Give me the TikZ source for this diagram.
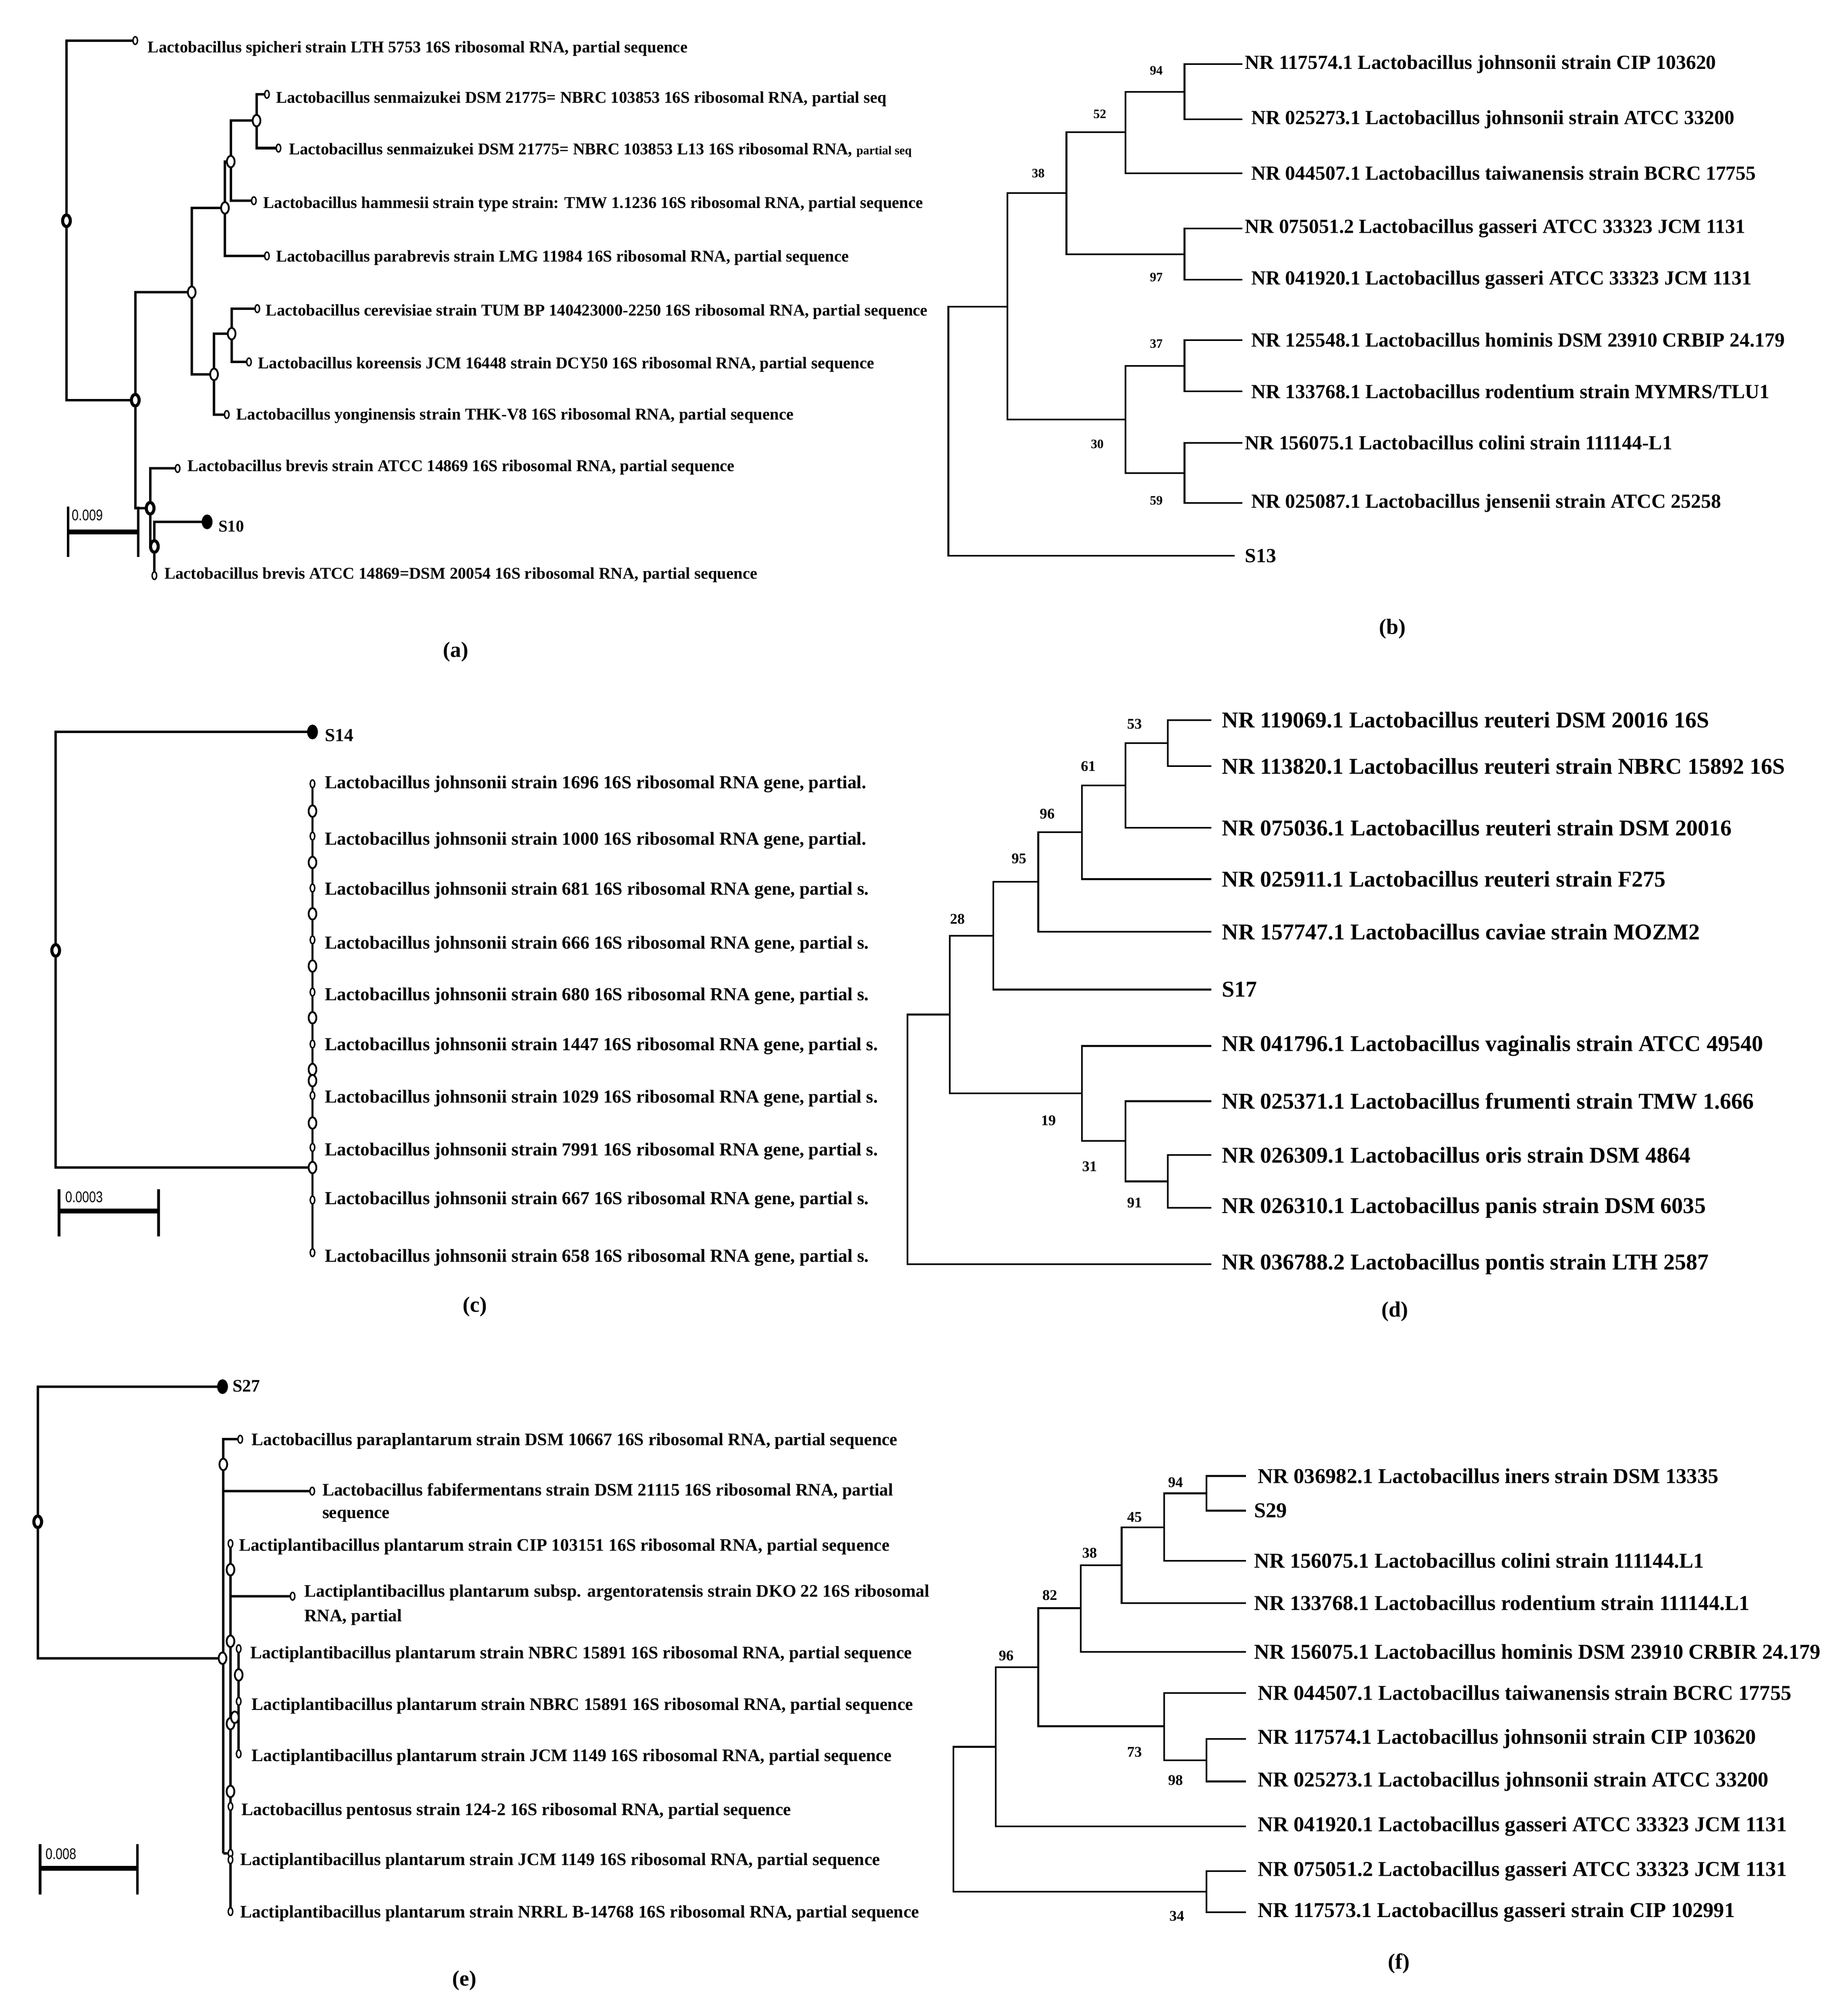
\documentclass[tikz,border=0pt]{standalone}
\usepackage{fontspec}
\setmainfont{Liberation Serif}
\newfontfamily\tf{Liberation Serif}
\newfontfamily\scfont[FakeStretch=0.8]{Liberation Sans}
\usetikzlibrary{shapes.geometric}
\begin{document}
\begin{tikzpicture}[x=1pt,y=-1pt,
 br/.style={line width=1.9pt},
 thin/.style={line width=1.3pt},
 lfa/.style={anchor=west,inner sep=0pt,font=\tf\bfseries\fontsize{12.8}{13}\selectfont},
 lfc/.style={anchor=west,inner sep=0pt,font=\tf\bfseries\fontsize{14.3}{15}\selectfont},
 lfe/.style={anchor=west,inner sep=0pt,font=\tf\bfseries\fontsize{13.7}{14}\selectfont},
 lfb/.style={anchor=west,inner sep=0pt,font=\tf\bfseries\fontsize{15.6}{16}\selectfont},
 lfd/.style={anchor=west,inner sep=0pt,font=\tf\bfseries\fontsize{17.6}{18}\selectfont},
 lff/.style={anchor=west,inner sep=0pt,font=\bfseries\fontsize{16.5}{17}\selectfont},
 bs/.style={inner sep=0pt,font=\bfseries\fontsize{10}{10}\selectfont},
 bsd/.style={inner sep=0pt,font=\bfseries\fontsize{11.5}{12}\selectfont},
 sm/.style={ellipse,draw,fill=white,line width=1.1pt,minimum width=3.5pt,minimum height=6pt,inner sep=0pt},
 bg/.style={ellipse,draw,fill=white,line width=1.4pt,minimum width=6pt,minimum height=9pt,inner sep=0pt},
 rt/.style={ellipse,draw,fill=white,line width=2.4pt,minimum width=6pt,minimum height=9pt,inner sep=0pt},
 sbar/.style={line width=4pt},
 panel/.style={font=\bfseries\fontsize{17}{17}\selectfont,inner sep=0pt}]
\fill[white] (0,0) rectangle (1440,1570);
\useasboundingbox (0,0) rectangle (1440,1570);

% ===================== (a) =====================
\coordinate (a0) at (51.8,172);
\coordinate (a1) at (105.4,311.8);
\coordinate (aA) at (149.4,227.7);
\coordinate (aB) at (175.3,162);
\coordinate (aC) at (179.8,125.9);
\coordinate (aD) at (199.9,94);
\coordinate (aE) at (166.8,291.7);
\coordinate (aF) at (180.5,260);
\coordinate (aG) at (117,396);
\coordinate (aH) at (120.3,425.8);
\coordinate (ta1) at (105.4,31.6);
\coordinate (ta2) at (208,73.5);
\coordinate (ta3) at (217,115.4);
\coordinate (ta4) at (197.8,156.4);
\coordinate (ta5) at (208,199.4);
\coordinate (ta6) at (200.5,240.5);
\coordinate (ta7) at (194,282);
\coordinate (ta8) at (176.7,323);
\coordinate (ta9) at (138.4,365);
\coordinate (ta10) at (161.4,406.6);
\coordinate (ta11) at (120.3,448.5);
\draw[br] (a0) |- (ta1); \draw[br] (a0) |- (a1);
\draw[br] (a1) |- (aA); \draw[br] (a1) |- (aG);
\draw[br] (aA) |- (aB); \draw[br] (aA) |- (aE);
\draw[br] (aB) |- (aC); \draw[br] (aB) |- (ta5);
\draw[br] (aC) |- (aD); \draw[br] (aC) |- (ta4);
\draw[br] (aD) |- (ta2); \draw[br] (aD) |- (ta3);
\draw[br] (aE) |- (aF); \draw[br] (aE) |- (ta8);
\draw[br] (aF) |- (ta6); \draw[br] (aF) |- (ta7);
\draw[br] (aG) |- (ta9); \draw[br] (aG) |- (aH);
\draw[br] (aH) |- (ta10); \draw[br] (aH) -- (ta11);
\foreach \p in {ta1,ta2,ta3,ta4,ta5,ta6,ta7,ta8,ta9,ta11} \node[sm] at (\p) {};
\node[rt,fill=black] at (ta10) {};
\foreach \p in {aA,aB,aC,aD,aE,aF} \node[bg] at (\p) {};
\foreach \p in {a0,a1,aG,aH} \node[rt] at (\p) {};
\node[lfa] (la1) at (115,38) {Lactobacillus spicheri strain LTH 5753 16S ribosomal RNA, partial sequence};
\node[lfa] (la2) at (215,77) {Lactobacillus senmaizukei DSM 21775= NBRC 103853 16S ribosomal RNA, partial seq};
\node[lfa] (la3) at (225,117) {Lactobacillus senmaizukei DSM 21775= NBRC 103853 L13 16S ribosomal RNA, {\fontsize{9.5}{10}\selectfont partial seq}};
\node[lfa] (la4) at (205,159) {Lactobacillus hammesii strain type strain: TMW 1.1236 16S ribosomal RNA, partial sequence};
\node[lfa] (la5) at (215,201) {Lactobacillus parabrevis strain LMG 11984 16S ribosomal RNA, partial sequence};
\node[lfa] (la6) at (207,243) {Lactobacillus cerevisiae strain TUM BP 140423000-2250 16S ribosomal RNA, partial sequence};
\node[lfa] (la7) at (201,284) {Lactobacillus koreensis JCM 16448 strain DCY50 16S ribosomal RNA, partial sequence};
\node[lfa] (la8) at (184,324) {Lactobacillus yonginensis strain THK-V8 16S ribosomal RNA, partial sequence};
\node[lfa] (la9) at (146,364) {Lactobacillus brevis strain ATCC 14869 16S ribosomal RNA, partial sequence};
\node[lfa] (la10) at (170,410) {S10};
\node[lfa] (la11) at (128,448) {Lactobacillus brevis ATCC 14869=DSM 20054 16S ribosomal RNA, partial sequence};
\coordinate (sa1) at (53,414.5); \coordinate (sa2) at (107.7,414.5);
\draw[sbar] (sa1) -- (sa2);
\draw[line width=2pt] (53,394.7) -- (53,434); \draw[line width=2pt] (107.7,394.7) -- (107.7,434);
\node[anchor=south west,inner sep=0pt,font=\scfont\fontsize{12}{12}\selectfont] (sca) at (56,406) {0.009};
\node[panel] (pa) at (355,508) {(a)};

% ===================== (b) =====================
\coordinate (b0) at (739,336);
\coordinate (b38) at (785,239);
\coordinate (b52) at (831,150.5);
\coordinate (b94c) at (877,103);
\coordinate (b94) at (923,71.5);
\coordinate (b97) at (923,198);
\coordinate (b30) at (877,327);
\coordinate (b37) at (923,285);
\coordinate (b59) at (923,368.5);
\foreach \i/\y in {1/50,2/93,3/135,4/178,5/218,6/265,7/305,8/345,9/392} \coordinate (tb\i) at (968,\y);
\coordinate (tb10) at (962,433);
\draw[thin] (b0) |- (b38); \draw[thin] (b0) |- (tb10);
\draw[thin] (b38) |- (b52); \draw[thin] (b38) |- (b30);
\draw[thin] (b52) |- (b94c); \draw[thin] (b52) |- (b97);
\draw[thin] (b94c) |- (b94); \draw[thin] (b94c) |- (tb3);
\draw[thin] (b94) |- (tb1); \draw[thin] (b94) |- (tb2);
\draw[thin] (b97) |- (tb4); \draw[thin] (b97) |- (tb5);
\draw[thin] (b30) |- (b37); \draw[thin] (b30) |- (b59);
\draw[thin] (b37) |- (tb6); \draw[thin] (b37) |- (tb7);
\draw[thin] (b59) |- (tb8); \draw[thin] (b59) |- (tb9);
\node[bs] (n38) at (809,135) {38};
\node[bs] (n52) at (857,89) {52};
\node[bs] (n94) at (901,55) {94};
\node[bs] (n97) at (901,216) {97};
\node[bs] (n37) at (901,268) {37};
\node[bs] (n30) at (855,346) {30};
\node[bs] (n59) at (901,390) {59};
\node[lfb] (lb1) at (970,50) {NR 117574.1 Lactobacillus johnsonii strain CIP 103620};
\node[lfb] (lb2) at (975,93) {NR 025273.1 Lactobacillus johnsonii strain ATCC 33200};
\node[lfb] (lb3) at (975,135) {NR 044507.1 Lactobacillus taiwanensis strain BCRC 17755};
\node[lfb] (lb4) at (970,178) {NR 075051.2 Lactobacillus gasseri ATCC 33323 JCM 1131};
\node[lfb] (lb5) at (975,218) {NR 041920.1 Lactobacillus gasseri ATCC 33323 JCM 1131};
\node[lfb] (lb6) at (975,265) {NR 125548.1 Lactobacillus hominis DSM 23910 CRBIP 24.179};
\node[lfb] (lb7) at (975,305) {NR 133768.1 Lactobacillus rodentium strain MYMRS/TLU1};
\node[lfb] (lb8) at (970,345) {NR 156075.1 Lactobacillus colini strain 111144-L1};
\node[lfb] (lb9) at (975,392) {NR 025087.1 Lactobacillus jensenii strain ATCC 25258};
\node[lfb] (lb10) at (970,433) {S13};
\node[panel] (pb) at (1085,490) {(b)};

% ===================== (c) =====================
\coordinate (c0) at (43.4,740.5);
\coordinate (cS) at (243.5,570.3);
\coordinate (cN) at (243.5,909.7);
\coordinate (ctop) at (243.5,610.7);
\coordinate (cbot) at (243.5,976);
\draw[br] (c0) |- (cS); \draw[br] (c0) |- (cN);
\draw[line width=1.5pt] (ctop) -- (cbot);
\node[rt,fill=black] at (cS) {};
\node[rt] at (c0) {};
\foreach \y in {610.7,651.5,691.9,732.3,773,813.5,853.6,894,935,976} \node[sm] at (243.5,\y) {};
\foreach \y in {632,672,712,752.7,793,833.3,842,875,909.7} \node[bg] at (243.5,\y) {};
\node[lfc] (lc0) at (253,573) {S14};
\node[lfc] (lc1) at (253,611) {Lactobacillus johnsonii strain 1696 16S ribosomal RNA gene, partial.};
\node[lfc] (lc2) at (253,655) {Lactobacillus johnsonii strain 1000 16S ribosomal RNA gene, partial.};
\node[lfc] (lc3) at (253,694) {Lactobacillus johnsonii strain 681 16S ribosomal RNA gene, partial s.};
\node[lfc] (lc4) at (253,736) {Lactobacillus johnsonii strain 666 16S ribosomal RNA gene, partial s.};
\node[lfc] (lc5) at (253,776) {Lactobacillus johnsonii strain 680 16S ribosomal RNA gene, partial s.};
\node[lfc] (lc6) at (253,815) {Lactobacillus johnsonii strain 1447 16S ribosomal RNA gene, partial s.};
\node[lfc] (lc7) at (253,856) {Lactobacillus johnsonii strain 1029 16S ribosomal RNA gene, partial s.};
\node[lfc] (lc8) at (253,897) {Lactobacillus johnsonii strain 7991 16S ribosomal RNA gene, partial s.};
\node[lfc] (lc9) at (253,935) {Lactobacillus johnsonii strain 667 16S ribosomal RNA gene, partial s.};
\node[lfc] (lc10) at (253,980) {Lactobacillus johnsonii strain 658 16S ribosomal RNA gene, partial s.};
\coordinate (sc1) at (46,943.6); \coordinate (sc2) at (123.6,943.6);
\draw[sbar] (sc1) -- (sc2);
\draw[line width=2pt] (46,926.6) -- (46,963.4); \draw[line width=2pt] (123.6,926.6) -- (123.6,963.4);
\node[anchor=south west,inner sep=0pt,font=\scfont\fontsize{12}{12}\selectfont] (scc) at (50.8,937) {0.0003};
\node[panel] (pc) at (370,1018) {(c)};

% ===================== (d) =====================
\coordinate (d0) at (707,888);
\coordinate (d28) at (740,790.5);
\coordinate (d95) at (774,729);
\coordinate (d96) at (809,687);
\coordinate (d61) at (843,648.5);
\coordinate (d53) at (877,612);
\coordinate (d53b) at (910,579);
\coordinate (d19) at (843,852);
\coordinate (d31) at (877,889);
\coordinate (d91) at (910,920.5);
\foreach \i/\y in {1/561,2/597,3/645,4/685,5/726,6/771,7/815,8/858,9/900,10/941,11/985} \coordinate (td\i) at (944,\y);
\draw[thin] (d0) |- (d28); \draw[thin] (d0) |- (td11);
\draw[thin] (d28) |- (d95); \draw[thin] (d28) |- (d19);
\draw[thin] (d95) |- (d96); \draw[thin] (d95) |- (td6);
\draw[thin] (d96) |- (d61); \draw[thin] (d96) |- (td5);
\draw[thin] (d61) |- (d53); \draw[thin] (d61) |- (td4);
\draw[thin] (d53) |- (d53b); \draw[thin] (d53) |- (td3);
\draw[thin] (d53b) |- (td1); \draw[thin] (d53b) |- (td2);
\draw[thin] (d19) |- (td7); \draw[thin] (d19) |- (d31);
\draw[thin] (d31) |- (td8); \draw[thin] (d31) |- (d91);
\draw[thin] (d91) |- (td9); \draw[thin] (d91) |- (td10);
\node[bsd] (m53) at (884,564) {53};
\node[bsd] (m61) at (848,597) {61};
\node[bsd] (m96) at (816,634) {96};
\node[bsd] (m95) at (794,669) {95};
\node[bsd] (m28) at (746,716) {28};
\node[bsd] (m19) at (817,873) {19};
\node[bsd] (m31) at (849,909) {31};
\node[bsd] (m91) at (884,937) {91};
\node[lfd] (ld1) at (952,561) {NR 119069.1 Lactobacillus reuteri DSM 20016 16S};
\node[lfd] (ld2) at (952,597) {NR 113820.1 Lactobacillus reuteri strain NBRC 15892 16S};
\node[lfd] (ld3) at (952,645) {NR 075036.1 Lactobacillus reuteri strain DSM 20016};
\node[lfd] (ld4) at (952,685) {NR 025911.1 Lactobacillus reuteri strain F275};
\node[lfd] (ld5) at (952,726) {NR 157747.1 Lactobacillus caviae strain MOZM2};
\node[lfd] (ld6) at (952,771) {S17};
\node[lfd] (ld7) at (952,815) {NR 041796.1 Lactobacillus vaginalis strain ATCC 49540};
\node[lfd] (ld8) at (952,858) {NR 025371.1 Lactobacillus frumenti strain TMW 1.666};
\node[lfd] (ld9) at (952,900) {NR 026309.1 Lactobacillus oris strain DSM 4864};
\node[lfd] (ld10) at (952,941) {NR 026310.1 Lactobacillus panis strain DSM 6035};
\node[lfd] (ld11) at (952,985) {NR 036788.2 Lactobacillus pontis strain LTH 2587};
\node[panel] (pd) at (1087,1022) {(d)};

% ===================== (e) =====================
\coordinate (e0) at (29.4,1185.7);
\coordinate (eS) at (173.4,1080.4);
\coordinate (eM) at (173.4,1292);
\coordinate (eTop) at (174,1121.4);
\coordinate (eBot) at (174,1444);
\coordinate (eP) at (174,1141);
\coordinate (tPara) at (187.2,1121.4);
\coordinate (eF) at (174,1161.8);
\coordinate (tFab) at (243.3,1161.8);
\coordinate (e2top) at (179.6,1202.7);
\coordinate (e2bot) at (179.6,1489.4);
\coordinate (e2j) at (179.6,1444);
\coordinate (eA) at (179.6,1243.7);
\coordinate (tArg) at (228,1243.7);
\coordinate (e3top) at (186,1284.6);
\coordinate (e3bot) at (186,1366.5);
\coordinate (e3j) at (179.6,1335.8);
\coordinate (e3m) at (186,1335.8);
\draw[br] (e0) |- (eS); \draw[br] (e0) |- (eM);
\draw[br] (eP) |- (tPara);
\draw[br] (eTop) -- (eBot); \draw[br] (eBot) -- (e2j);
\draw[br] (eF) -- (tFab);
\draw[br] (e2top) -- (e2bot);
\draw[br] (eA) -- (tArg);
\draw[br] (e3top) -- (e3bot); \draw[br] (e3j) -- (e3m);
\node[rt] at (e0) {};
\node[rt,fill=black] at (eS) {};
\foreach \p in {tPara,tFab,tArg,e2top,e3top,e3bot,e2bot} \node[sm] at (\p) {};
\foreach \y in {1325.6} \node[sm] at (186,\y) {};
\foreach \y in {1407.5,1444,1449} \node[sm] at (179.6,\y) {};
\foreach \y in {1223,1278.8,1343,1395.8} \node[bg] at (179.6,\y) {};
\node[bg] at (eP) {}; \node[bg] at (eM) {}; \node[bg] at (186,1305) {}; \node[bg] at (183,1338) {};
\node[lfe] (le0) at (181,1080) {S27};
\node[lfe] (le1) at (196,1123) {Lactobacillus paraplantarum strain DSM 10667 16S ribosomal RNA, partial sequence};
\node[lfe] (le2) at (251,1162) {Lactobacillus fabifermentans strain DSM 21115 16S ribosomal RNA, partial};
\node[lfe] (le2b) at (251,1181) {sequence};
\node[lfe] (le3) at (186,1205) {Lactiplantibacillus plantarum strain CIP 103151 16S ribosomal RNA, partial sequence};
\node[lfe] (le4) at (237,1241) {Lactiplantibacillus plantarum subsp. argentoratensis strain DKO 22 16S ribosomal};
\node[lfe] (le4b) at (237,1260) {RNA, partial};
\node[lfe] (le5) at (195,1289) {Lactiplantibacillus plantarum strain NBRC 15891 16S ribosomal RNA, partial sequence};
\node[lfe] (le6) at (196,1329) {Lactiplantibacillus plantarum strain NBRC 15891 16S ribosomal RNA, partial sequence};
\node[lfe] (le7) at (196,1369) {Lactiplantibacillus plantarum strain JCM 1149 16S ribosomal RNA, partial sequence};
\node[lfe] (le8) at (188,1411) {Lactobacillus pentosus strain 124-2 16S ribosomal RNA, partial sequence};
\node[lfe] (le9) at (187,1450) {Lactiplantibacillus plantarum strain JCM 1149 16S ribosomal RNA, partial sequence};
\node[lfe] (le10) at (187,1491) {Lactiplantibacillus plantarum strain NRRL B-14768 16S ribosomal RNA, partial sequence};
\coordinate (se1) at (31.2,1455.7); \coordinate (se2) at (107.1,1455.7);
\draw[sbar] (se1) -- (se2);
\draw[line width=2pt] (31.2,1436.7) -- (31.2,1476); \draw[line width=2pt] (107.1,1436.7) -- (107.1,1476);
\node[anchor=south west,inner sep=0pt,font=\scfont\fontsize{12}{12}\selectfont] (sce) at (35.3,1449) {0.008};
\node[panel] (pe) at (362,1543) {(e)};

% ===================== (f) =====================
\coordinate (f0) at (743,1417.5);
\coordinate (f96) at (776,1361);
\coordinate (f82) at (809,1299);
\coordinate (f38) at (842,1253);
\coordinate (f45) at (874,1219.5);
\coordinate (f94) at (907,1190);
\coordinate (f94b) at (940,1163.5);
\coordinate (f73) at (907,1345);
\coordinate (f98) at (940,1371.5);
\coordinate (f34) at (940,1474);
\foreach \i/\y in {1/1150,2/1177,3/1216,4/1249,5/1287,6/1319,7/1355,8/1388,9/1423,10/1458,11/1490} \coordinate (tf\i) at (971,\y);
\draw[thin] (f0) |- (f96); \draw[thin] (f0) |- (f34);
\draw[thin] (f96) |- (f82); \draw[thin] (f96) |- (tf9);
\draw[thin] (f82) |- (f38); \draw[thin] (f82) |- (f73);
\draw[thin] (f38) |- (f45); \draw[thin] (f38) |- (tf5);
\draw[thin] (f45) |- (f94); \draw[thin] (f45) |- (tf4);
\draw[thin] (f94) |- (f94b); \draw[thin] (f94) |- (tf3);
\draw[thin] (f94b) |- (tf1); \draw[thin] (f94b) |- (tf2);
\draw[thin] (f73) |- (tf6); \draw[thin] (f73) |- (f98);
\draw[thin] (f98) |- (tf7); \draw[thin] (f98) |- (tf8);
\draw[thin] (f34) |- (tf10); \draw[thin] (f34) |- (tf11);
\node[bsd] (k94) at (916,1155) {94};
\node[bsd] (k45) at (884,1182) {45};
\node[bsd] (k38) at (849,1210) {38};
\node[bsd] (k82) at (818,1243) {82};
\node[bsd] (k96) at (784,1290) {96};
\node[bsd] (k73) at (884,1365) {73};
\node[bsd] (k98) at (916,1387) {98};
\node[bsd] (k34) at (917,1493) {34};
\node[lff] (lf1) at (980,1150) {NR 036982.1 Lactobacillus iners strain DSM 13335};
\node[lff] (lf2) at (977,1177) {S29};
\node[lff] (lf3) at (977,1216) {NR 156075.1 Lactobacillus colini strain 111144.L1};
\node[lff] (lf4) at (977,1249) {NR 133768.1 Lactobacillus rodentium strain 111144.L1};
\node[lff] (lf5) at (977,1287) {NR 156075.1 Lactobacillus hominis DSM 23910 CRBIR 24.179};
\node[lff] (lf6) at (980,1319) {NR 044507.1 Lactobacillus taiwanensis strain BCRC 17755};
\node[lff] (lf7) at (980,1355) {NR 117574.1 Lactobacillus johnsonii strain CIP 103620};
\node[lff] (lf8) at (980,1388) {NR 025273.1 Lactobacillus johnsonii strain ATCC 33200};
\node[lff] (lf9) at (980,1423) {NR 041920.1 Lactobacillus gasseri ATCC 33323 JCM 1131};
\node[lff] (lf10) at (980,1458) {NR 075051.2 Lactobacillus gasseri ATCC 33323 JCM 1131};
\node[lff] (lf11) at (980,1490) {NR 117573.1 Lactobacillus gasseri strain CIP 102991};
\node[panel] (pf) at (1090,1530) {(f)};
\end{tikzpicture}
\end{document}
